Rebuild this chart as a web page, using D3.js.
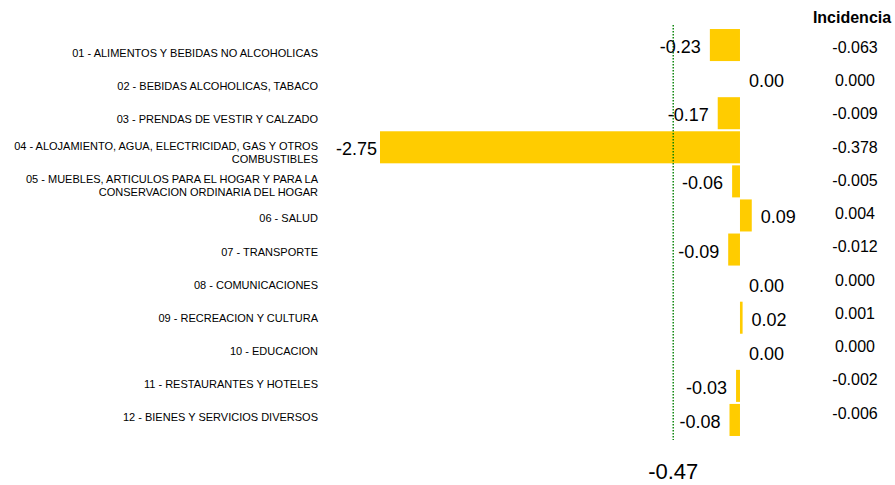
<!DOCTYPE html>
<html>
<head>
<meta charset="utf-8">
<script src="https://cdn.jsdelivr.net/npm/d3@7"></script>
<style>
  html, body { margin: 0; padding: 0; background: #fff; }
  svg { display: block; font-family: "Liberation Sans", Arial, sans-serif; }
</style>
</head>
<body>
<svg id="chart" width="895" height="485"></svg>
<script>
const categories = [
  "01 - ALIMENTOS Y BEBIDAS NO ALCOHOLICAS",
  "02 - BEBIDAS ALCOHOLICAS, TABACO",
  "03 - PRENDAS DE VESTIR Y CALZADO",
  "04 - ALOJAMIENTO, AGUA, ELECTRICIDAD, GAS Y OTROS\nCOMBUSTIBLES",
  "05 - MUEBLES, ARTICULOS PARA EL HOGAR Y PARA LA\nCONSERVACION ORDINARIA DEL HOGAR",
  "06 - SALUD",
  "07 - TRANSPORTE",
  "08 - COMUNICACIONES",
  "09 - RECREACION Y CULTURA",
  "10 - EDUCACION",
  "11 - RESTAURANTES Y HOTELES",
  "12 - BIENES Y SERVICIOS DIVERSOS"
];
const values = [-0.23, 0.00, -0.17, -2.75, -0.06, 0.09, -0.09, 0.00, 0.02, 0.00, -0.03, -0.08];
const incidencia = [-0.063, 0.000, -0.009, -0.378, -0.005, 0.004, -0.012, 0.000, 0.001, 0.000, -0.002, -0.006];
const incidenciaTitle = "Incidencia";
const totalLabel = -0.47;
const referenceLineValue = -0.51;

const locale = d3.formatLocale({decimal: ".", thousands: ",", grouping: [3], currency: ["", ""], minus: "-"});
const f2 = locale.format(".2f");
const f3 = locale.format(".3f");

const svg = d3.select("#chart");
const idx = d3.range(categories.length);

const x = d3.scaleLinear().domain([-2.75, 0.2]).range([380, 380 + 2.95 * 130.9]);
const y = d3.scaleBand().domain(idx).range([28, 437]).paddingInner(0.06).paddingOuter(0.03);
const yLabel = d3.scalePoint().domain(idx).range([53, 417]);
const yInc = d3.scalePoint().domain(idx).range([47.5, 413]);

// bars
svg.append("g").selectAll("rect").data(idx).join("rect")
  .attr("x", i => x(Math.min(0, values[i])))
  .attr("width", i => Math.abs(x(values[i]) - x(0)))
  .attr("y", i => y(i))
  .attr("height", y.bandwidth())
  .attr("fill", "#FFCC00");

// reference dotted line
svg.append("line")
  .attr("x1", x(referenceLineValue)).attr("x2", x(referenceLineValue))
  .attr("y1", 25).attr("y2", 440)
  .attr("stroke", "#008000").attr("stroke-width", 1.4)
  .attr("stroke-dasharray", "1.5,1.5");

// value labels
const leftLimit = 336;
const vl = svg.append("g").selectAll("text").data(idx).join("text")
  .attr("y", i => y(i) + y.bandwidth() / 2 + 2)
  .attr("dominant-baseline", "central")
  .attr("text-anchor", i => values[i] < 0 ? "end" : "start")
  .attr("font-size", 18)
  .attr("fill", "#000")
  .text(i => f2(values[i]));
vl.each(function(i) {
  const t = d3.select(this);
  if (values[i] < 0) {
    const w = this.getComputedTextLength();
    t.attr("x", Math.max(x(values[i]) - 9, leftLimit + w));
  } else {
    t.attr("x", x(values[i]) + 9);
  }
});

// category labels
const cat = svg.append("g").selectAll("text").data(idx).join("text")
  .attr("text-anchor", "end")
  .attr("font-size", 11)
  .attr("fill", "#000");
cat.each(function(i) {
  const lines = categories[i].split("\n");
  const t = d3.select(this);
  const c = yLabel(i);
  const lh = 12.5;
  lines.forEach((ln, k) => {
    t.append("tspan")
      .attr("x", 318)
      .attr("y", c + (k - (lines.length - 1) / 2) * lh)
      .attr("dominant-baseline", "central")
      .text(ln);
  });
});

// incidencia column
svg.append("text")
  .attr("x", 852).attr("y", 17)
  .attr("text-anchor", "middle").attr("dominant-baseline", "central")
  .attr("font-size", 16).attr("font-weight", "bold").attr("fill", "#000")
  .text(incidenciaTitle);

svg.append("g").selectAll("text").data(idx).join("text")
  .attr("x", 855)
  .attr("y", i => yInc(i))
  .attr("text-anchor", "middle").attr("dominant-baseline", "central")
  .attr("font-size", 16).attr("fill", "#000")
  .text(i => f3(incidencia[i]));

// total label
svg.append("text")
  .attr("x", x(referenceLineValue)).attr("y", 471)
  .attr("text-anchor", "middle").attr("dominant-baseline", "central")
  .attr("font-size", 22).attr("fill", "#000")
  .text(f2(totalLabel));
</script>
</body>
</html>
